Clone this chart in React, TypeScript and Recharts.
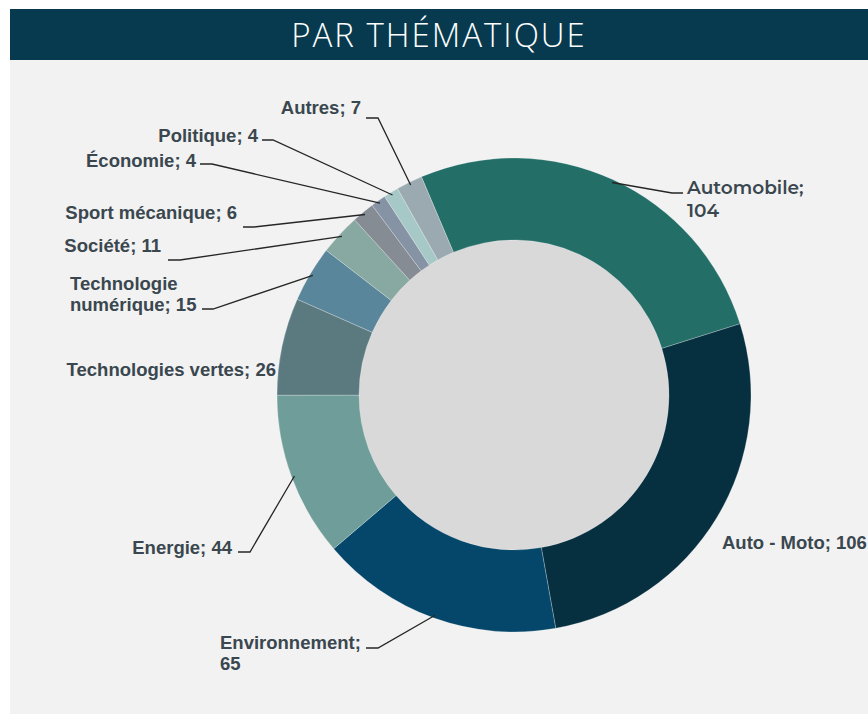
import React from 'react';
import { PieChart, Pie, Cell } from 'recharts';

const categories = [
  'Automobile',
  'Auto - Moto',
  'Environnement',
  'Energie',
  'Technologies vertes',
  'Technologie numérique',
  'Société',
  'Sport mécanique',
  'Économie',
  'Politique',
  'Autres',
];
const counts = [104, 106, 65, 44, 26, 15, 11, 6, 4, 4, 7];

const COLORS = [
  '#236E67',
  '#062F40',
  '#05476A',
  '#6F9D99',
  '#5A7A80',
  '#5A869B',
  '#88A9A2',
  '#868C94',
  '#8593A5',
  '#A6C8C6',
  '#9AAAB0',
];

const data = categories.map((name, i) => ({ name, value: counts[i] }));
const hole = [{ name: 'hole', value: 1 }];

// label placement (page px): x, y = text anchor, line = [elbowX, tipX, y] of the leader
type LabelPos = {
  x: number;
  y: number;
  anchor: 'start' | 'end';
  wrap?: 'value' | 'name';
  line?: [number, number, number];
  font?: string;
};
const LABELS: LabelPos[] = [
  { x: 687, y: 187, anchor: 'start', wrap: 'value', line: [672, 683, 193], font: 'Montserrat, "Open Sans", sans-serif' },
  { x: 722, y: 542, anchor: 'start' },
  { x: 220, y: 642, anchor: 'start', wrap: 'value', line: [378, 366, 648] },
  { x: 232, y: 547, anchor: 'end', line: [250, 238, 552] },
  { x: 276, y: 369, anchor: 'end' },
  { x: 70, y: 283, anchor: 'start', wrap: 'name', line: [213, 202, 309] },
  { x: 161, y: 245, anchor: 'end', line: [180, 168, 260] },
  { x: 237, y: 212, anchor: 'end', line: [254, 243, 227] },
  { x: 196, y: 160, anchor: 'end', line: [212, 200, 164] },
  { x: 258, y: 135, anchor: 'end', line: [273, 262, 140] },
  { x: 361, y: 107, anchor: 'end', line: [378, 366, 118] },
];

const RADIAN = Math.PI / 180;

const renderLabel = (props: any) => {
  const { cx, cy, midAngle, outerRadius, index, name, value } = props;
  const pos = LABELS[index];
  if (!pos) return null;
  const r = outerRadius - 3;
  const ex = cx + r * Math.cos(-midAngle * RADIAN);
  const ey = cy + r * Math.sin(-midAngle * RADIAN);
  let lines: string[];
  if (pos.wrap === 'value') lines = [`${name};`, `${value}`];
  else if (pos.wrap === 'name') {
    const parts = name.split(' ');
    lines = [parts[0], `${parts.slice(1).join(' ')}; ${value}`];
  } else lines = [`${name}; ${value}`];
  const isAuto = !!pos.font;
  return (
    <g key={`lbl-${index}`}>
      {pos.line && (
        <polyline
          points={`${ex},${ey} ${pos.line[0]},${pos.line[2]} ${pos.line[1]},${pos.line[2]}`}
          fill="none"
          stroke="#262626"
          strokeWidth={1.3}
        />
      )}
      <text
        x={pos.x}
        y={pos.y}
        textAnchor={pos.anchor}
        dominantBaseline="central"
        fill="#3A474F"
        style={{
          fontFamily: pos.font || '"Liberation Sans", Arial, sans-serif',
          fontWeight: isAuto ? 600 : 700,
          fontSize: 18.5,
        }}
      >
        {lines.map((l, i) => (
          <tspan key={i} x={pos.x} dy={i === 0 ? 0 : isAuto ? 23 : 21}>
            {l}
          </tspan>
        ))}
      </text>
    </g>
  );
};

export default function App() {
  return (
    <div
      style={{
        position: 'absolute',
        left: 0,
        top: 0,
        width: 868,
        height: 716,
        background: '#FFFFFF',
        overflow: 'hidden',
      }}
    >
      <div
        style={{
          position: 'absolute',
          left: 10,
          top: 9,
          width: 858,
          height: 51,
          background: '#073A4E',
          color: '#FFFFFF',
          fontFamily: '"Open Sans", sans-serif',
          fontWeight: 300,
          fontSize: 33,
          letterSpacing: 2,
          lineHeight: '51px',
          textAlign: 'center',
        }}
      >
        PAR THÉMATIQUE
      </div>
      <div
        style={{
          position: 'absolute',
          left: 10,
          top: 60,
          width: 858,
          height: 654,
          background: '#F2F2F2',
        }}
      />
      <div style={{ position: 'absolute', left: 0, top: 0 }}>
        <PieChart width={868} height={716} margin={{ top: 0, right: 0, bottom: 0, left: 0 }}>
          <Pie
            data={hole}
            dataKey="value"
            cx={514}
            cy={395}
            innerRadius={0}
            outerRadius={156}
            fill="#D9D9D9"
            stroke="none"
            isAnimationActive={false}
          />
          <Pie
            data={data}
            dataKey="value"
            nameKey="name"
            cx={514}
            cy={395}
            innerRadius={155}
            outerRadius={237}
            startAngle={113}
            endAngle={-247}
            stroke="#FFFFFF"
            strokeOpacity={0.35}
            strokeWidth={0.7}
            label={renderLabel}
            labelLine={false}
            isAnimationActive={false}
          >
            {data.map((entry, index) => (
              <Cell key={`cell-${index}`} fill={COLORS[index]} />
            ))}
          </Pie>
        </PieChart>
      </div>
    </div>
  );
}
